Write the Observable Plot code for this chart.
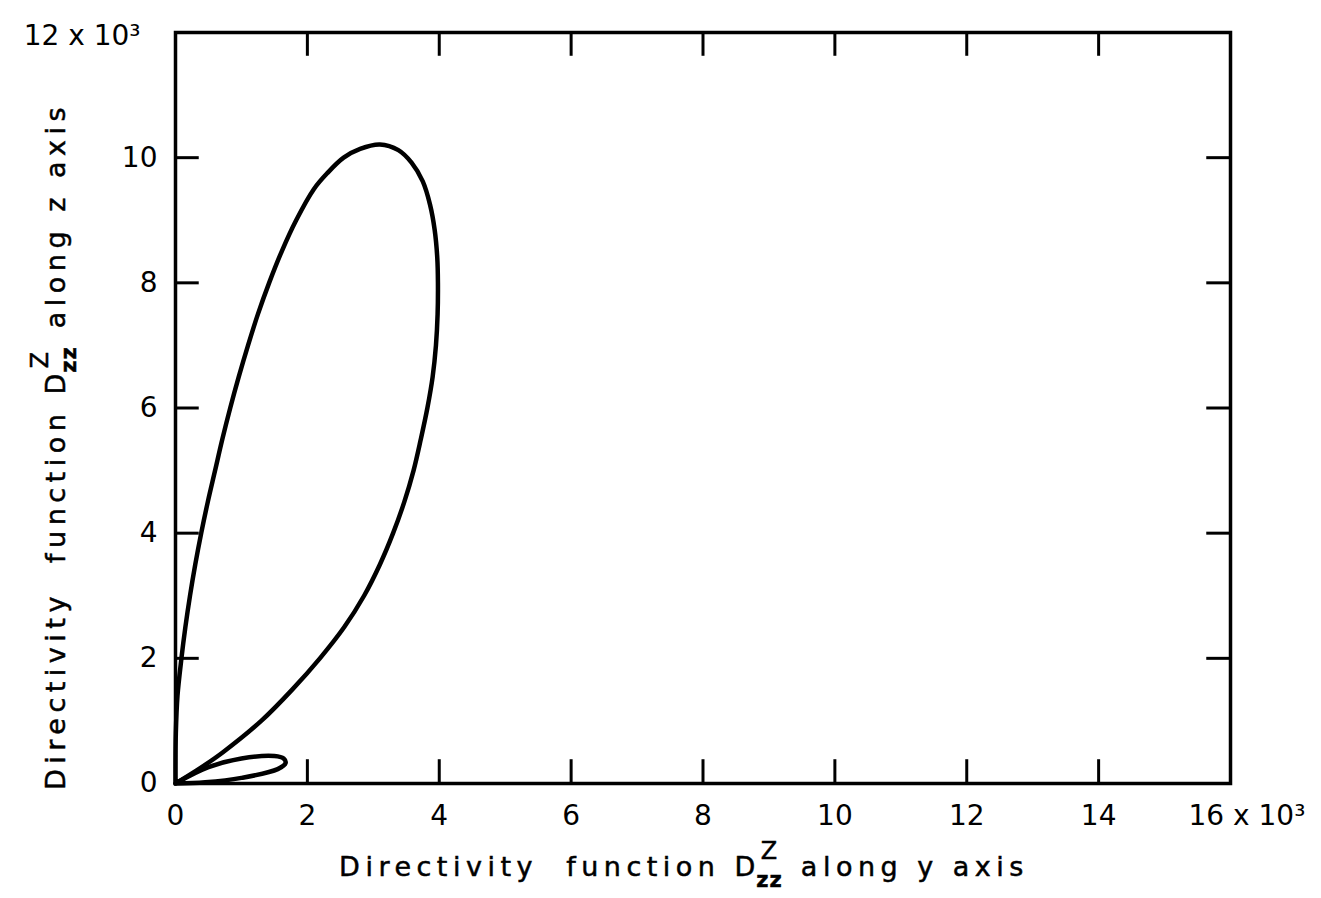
<!DOCTYPE html>
<html>
<head>
<meta charset="utf-8">
<script src="https://cdn.jsdelivr.net/npm/d3@7"></script>
<script src="https://cdn.jsdelivr.net/npm/@observablehq/plot@0.6"></script>
<style>
  html, body { margin: 0; padding: 0; background: #fff; }
  #chart svg { display: block; }
</style>
</head>
<body>
<div id="chart"></div>
<script>
// ---- Data (in units of 10^3) ----
const xTickValues = [2, 4, 6, 8, 10, 12, 14];
const yTickValues = [2, 4, 6, 8, 10];
const xLabelValues = [0, 2, 4, 6, 8, 10, 12, 14];
const yLabelValues = [0, 2, 4, 6, 8, 10];
const xMaxLabel = ["16 x 10³"];
const yMaxLabel = ["12 x 10³"];

// Main lobe: D along y axis (x) and D along z axis (y), traced around the closed curve
// left branch (bottom -> top), then right branch (top -> bottom)
const mainLobeAlongY = [
  0, 0, 0.005, 0.03, 0.09, 0.15, 0.22, 0.30, 0.39, 0.49, 0.60, 0.71, 0.83, 0.96, 1.10, 1.25, 1.42, 1.61, 1.83, 2.10, 2.30, 2.55, 2.80, 3.10,
  3.38, 3.58, 3.75, 3.86, 3.93, 3.97, 3.98, 3.975, 3.95, 3.90, 3.82, 3.72, 3.61, 3.47, 3.30, 3.10, 2.86, 2.56, 2.19, 1.77, 1.30, 0.72, 0.38, 0
];
const mainLobeAlongZ = [
  0, 0.4, 0.8, 1.4, 2.0, 2.5, 3.0, 3.5, 4.0, 4.5, 5.0, 5.5, 6.0, 6.5, 7.0, 7.5, 8.0, 8.5, 9.0, 9.5, 9.75, 10.0, 10.14, 10.21,
  10.12, 9.92, 9.62, 9.25, 8.85, 8.4, 8.0, 7.5, 7.0, 6.5, 6.0, 5.5, 5.0, 4.5, 4.0, 3.5, 3.0, 2.5, 2.0, 1.5, 1.0, 0.5, 0.25, 0
];

// Small lobe near the y axis
const smallLobeAlongY = [0, 0.5, 1.0, 1.5, 1.64, 1.67, 1.55, 1.0, 0.45, 0];
const smallLobeAlongZ = [0, 0.26, 0.40, 0.44, 0.40, 0.33, 0.23, 0.09, 0.02, 0];

const mainLobe = mainLobeAlongY.map((v, i) => ({dy: v, dz: mainLobeAlongZ[i]}));
const smallLobe = smallLobeAlongY.map((v, i) => ({dy: v, dz: smallLobeAlongZ[i]}));

const FONT = "DejaVu Sans, Liberation Sans, sans-serif";
const tickLenX = 0.36; // x units (inward tick length)
const tickLenY = 0.38; // y units
const labelStyle = {fontSize: 28, fill: "#000"};

const chart = Plot.plot({
  width: 1321,
  height: 898,
  marginLeft: 175,
  marginRight: 91,
  marginTop: 32,
  marginBottom: 115,
  x: {domain: [0, 16]},
  y: {domain: [0, 12]},
  style: {fontFamily: FONT, fontSize: "28px", color: "#000", background: "#fff"},
  marks: [
    // inward ticks on all four sides
    Plot.ruleX(xTickValues, {x: d => d, y1: 0, y2: tickLenY, stroke: "#000", strokeWidth: 3}),
    Plot.ruleX(xTickValues, {x: d => d, y1: 12 - tickLenY, y2: 12, stroke: "#000", strokeWidth: 3}),
    Plot.ruleY(yTickValues, {y: d => d, x1: 0, x2: tickLenX, stroke: "#000", strokeWidth: 3}),
    Plot.ruleY(yTickValues, {y: d => d, x1: 16 - tickLenX, x2: 16, stroke: "#000", strokeWidth: 3}),
    Plot.frame({stroke: "#000", strokeWidth: 3.5}),
    // tick labels
    Plot.axisX(xLabelValues, {tickSize: 0, tickPadding: 22, label: null, tickFormat: d => String(d), ...labelStyle}),
    Plot.axisY(yLabelValues, {tickSize: 0, tickPadding: 18, label: null, tickFormat: d => String(d), ...labelStyle}),
    Plot.text(xMaxLabel, {x: () => 16, y: () => 0, text: d => d, textAnchor: "start", lineAnchor: "top", dx: -42, dy: 22, ...labelStyle}),
    Plot.text(yMaxLabel, {x: () => 0, y: () => 12, text: d => d, textAnchor: "end", dx: -35, dy: 4, ...labelStyle}),
    // curves
    Plot.line(mainLobe, {x: "dy", y: "dz", curve: "catmull-rom", stroke: "#000", strokeWidth: 4.5}),
    Plot.line(smallLobe, {x: "dy", y: "dz", curve: "catmull-rom", stroke: "#000", strokeWidth: 4.5})
  ]
});

document.getElementById("chart").appendChild(chart);

// ---- Axis titles with D^Z_zz notation ----
function addTitle(svg, {x, y, rotate, head, tail}) {
  const g = svg.append("g").attr("transform", `translate(${x},${y})` + (rotate ? ` rotate(${rotate})` : ""));
  const t = g.append("text")
    .attr("text-anchor", "middle")
    .attr("font-family", FONT)
    .attr("font-size", 27)
    .attr("letter-spacing", 5.5)
    .attr("fill", "#000")
    .attr("stroke", "#000")
    .attr("stroke-width", 0.5);
  t.append("tspan").text(head);
  const sup = t.append("tspan").attr("dy", -17).attr("font-size", 24).attr("letter-spacing", 1).text("Z");
  const sub = t.append("tspan").attr("dy", 28).attr("font-size", 21).attr("font-weight", "bold").attr("letter-spacing", 1).text("zz");
  const supW = sup.node().getComputedTextLength();
  const subW = sub.node().getComputedTextLength();
  sub.attr("dx", -(supW / 2 + subW / 2));
  t.append("tspan").attr("dy", -11).attr("dx", 4).text(tail);
}

const svg = d3.select(chart);
addTitle(svg, {x: 684, y: 876, head: "Directivity\u00a0\u00a0function\u00a0D", tail: "\u00a0along\u00a0y\u00a0axis"});
addTitle(svg, {x: 65, y: 446, rotate: -90, head: "Directivity\u00a0\u00a0function\u00a0D", tail: "\u00a0along\u00a0z\u00a0axis"});
</script>
</body>
</html>
